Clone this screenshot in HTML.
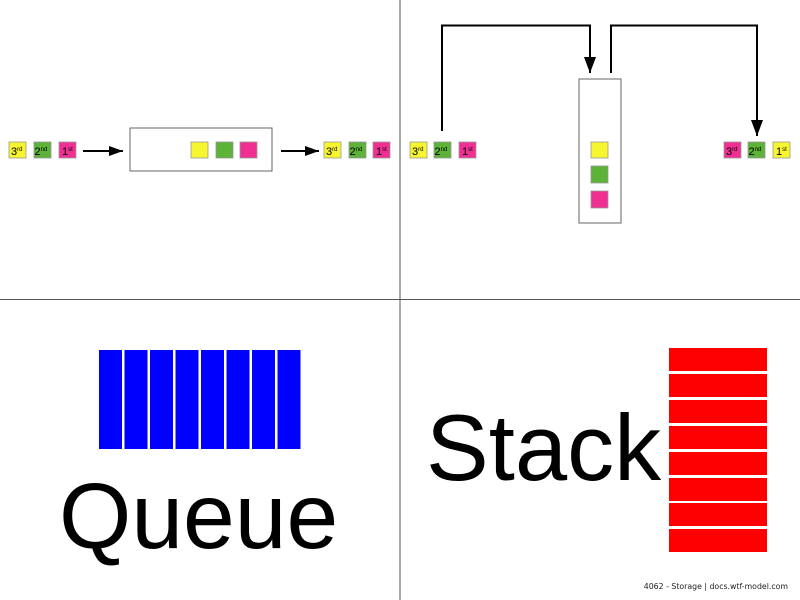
<!DOCTYPE html>
<html><head><style>
body{margin:0;background:#fff;}
svg{display:block}
text{font-family:"Liberation Sans",Arial,sans-serif}
.ft{font-family:"DejaVu Sans",sans-serif}
</style></head><body>
<svg width="800" height="600" viewBox="0 0 800 600" xmlns="http://www.w3.org/2000/svg">
<defs>
<marker id="ah" markerWidth="14" markerHeight="10" refX="14" refY="5" orient="auto" markerUnits="userSpaceOnUse"><path d="M0,0 L14,5 L0,10 z" fill="#000"/></marker>
<marker id="av" markerWidth="16" markerHeight="12" refX="16" refY="6" orient="auto" markerUnits="userSpaceOnUse"><path d="M0,0 L16,6 L0,12 z" fill="#000"/></marker>
</defs>
<line x1="400" y1="0" x2="400" y2="600" stroke="#555" stroke-width="1"/>
<line x1="0" y1="299.5" x2="800" y2="299.5" stroke="#555" stroke-width="1"/>
<g stroke="#999" stroke-width="0.8">
<rect x="9" y="142" width="17" height="16" fill="#f7f52d"/>
<rect x="34" y="142" width="17" height="16" fill="#5db337"/>
<rect x="59" y="142" width="17" height="16" fill="#ef2f92"/>
<rect x="324" y="142" width="17" height="16" fill="#f7f52d"/>
<rect x="349" y="142" width="17" height="16" fill="#5db337"/>
<rect x="373" y="142" width="17" height="16" fill="#ef2f92"/>
<rect x="191" y="142" width="17" height="16" fill="#f7f52d"/>
<rect x="216" y="142" width="17" height="16" fill="#5db337"/>
<rect x="240" y="142" width="17" height="16" fill="#ef2f92"/>
<rect x="410" y="142" width="17" height="16" fill="#f7f52d"/>
<rect x="434" y="142" width="17" height="16" fill="#5db337"/>
<rect x="459" y="142" width="17" height="16" fill="#ef2f92"/>
<rect x="724" y="142" width="17" height="16" fill="#ef2f92"/>
<rect x="748" y="142" width="17" height="16" fill="#5db337"/>
<rect x="773" y="142" width="17" height="16" fill="#f7f52d"/>
<rect x="591" y="142" width="17" height="16" fill="#f7f52d"/>
<rect x="591" y="166" width="17" height="17" fill="#5db337"/>
<rect x="591" y="191" width="17" height="17" fill="#ef2f92"/>
</g>
<g font-size="11" fill="#000">
<text x="11" y="155">3<tspan font-size="6" dy="-4">rd</tspan></text>
<text x="34.5" y="155">2<tspan font-size="6" dy="-4">nd</tspan></text>
<text x="62" y="155">1<tspan font-size="6" dy="-4">st</tspan></text>
<text x="326" y="155">3<tspan font-size="6" dy="-4">rd</tspan></text>
<text x="349.5" y="155">2<tspan font-size="6" dy="-4">nd</tspan></text>
<text x="376" y="155">1<tspan font-size="6" dy="-4">st</tspan></text>
<text x="412" y="155">3<tspan font-size="6" dy="-4">rd</tspan></text>
<text x="434.5" y="155">2<tspan font-size="6" dy="-4">nd</tspan></text>
<text x="462" y="155">1<tspan font-size="6" dy="-4">st</tspan></text>
<text x="726" y="155">3<tspan font-size="6" dy="-4">rd</tspan></text>
<text x="748.5" y="155">2<tspan font-size="6" dy="-4">nd</tspan></text>
<text x="776" y="155">1<tspan font-size="6" dy="-4">st</tspan></text>
</g>
<rect x="130" y="128" width="142" height="43" fill="none" stroke="#666" stroke-width="1"/>
<rect x="579" y="79" width="42" height="144" fill="none" stroke="#666" stroke-width="1"/>
<line x1="83" y1="151" x2="123" y2="151" stroke="#000" stroke-width="2" marker-end="url(#ah)"/>
<line x1="281" y1="151" x2="319" y2="151" stroke="#000" stroke-width="2" marker-end="url(#ah)"/>
<polyline points="442,131 442,25.5 590,25.5 590,73" fill="none" stroke="#000" stroke-width="2" marker-end="url(#av)"/>
<polyline points="611,73 611,25.5 757,25.5 757,136" fill="none" stroke="#000" stroke-width="2" marker-end="url(#av)"/>
<g fill="#0000ff">
<rect x="99" y="350" width="23" height="99"/>
<rect x="124.5" y="350" width="23" height="99"/>
<rect x="150" y="350" width="23" height="99"/>
<rect x="175.5" y="350" width="23" height="99"/>
<rect x="201" y="350" width="23" height="99"/>
<rect x="226.5" y="350" width="23" height="99"/>
<rect x="252" y="350" width="23" height="99"/>
<rect x="277.5" y="350" width="23" height="99"/>
</g>
<g fill="#ff0000">
<rect x="669" y="348" width="98" height="23"/>
<rect x="669" y="374" width="98" height="23"/>
<rect x="669" y="400" width="98" height="23"/>
<rect x="669" y="426" width="98" height="23"/>
<rect x="669" y="452" width="98" height="23"/>
<rect x="669" y="478" width="98" height="23"/>
<rect x="669" y="503" width="98" height="23"/>
<rect x="669" y="529" width="98" height="23"/>
</g>
<text x="59" y="548" font-size="93" fill="#000">Queue</text>
<text x="426" y="480" font-size="94" fill="#000">Stack</text>
<text class="ft" x="788" y="589" font-size="7.8" text-anchor="end" fill="#222">4062 - Storage | docs.wtf-model.com</text>
</svg>
</body></html>
